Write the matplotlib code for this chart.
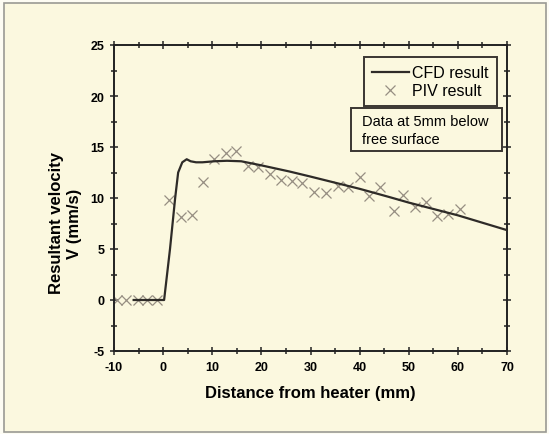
import matplotlib
matplotlib.use("Agg")
import matplotlib.pyplot as plt
from matplotlib.patches import Rectangle
from matplotlib.ticker import MultipleLocator

plt.rcParams['font.family'] = ['Liberation Sans', 'DejaVu Sans']
plt.rcParams['axes.unicode_minus'] = False

# CFD velocity profile along the free surface (mm, mm/s)
cfd_x = [-6, 0.2, 1.4, 2.45, 3.06, 3.9, 4.8, 5.6, 6.7, 8, 10.4, 13, 15.9,
         20, 25.7, 30, 40, 46, 50, 60, 70]
cfd_v = [0, 0, 5.0, 10.0, 12.5, 13.5, 13.8, 13.6, 13.5, 13.5, 13.6, 13.65, 13.6,
         13.2, 12.6, 12.1, 10.9, 10.1, 9.55, 8.3, 6.85]

# PIV measurements
piv_x = [-9.3, -7.6, -5.2, -3.2, -1.2, 1.2, 3.7, 5.8, 8.2, 10.4, 12.8, 14.8,
         17.2, 19.4, 21.8, 24.0, 26.3, 28.2, 30.8, 33.2, 35.6, 37.6, 40.0,
         42.0, 44.2, 46.9, 48.8, 51.2, 53.5, 55.7, 58.0, 60.4]
piv_v = [0, 0, 0, 0, 0, 9.8, 8.1, 8.3, 11.6, 13.8, 14.4, 14.6,
         13.1, 13.0, 12.4, 11.8, 11.7, 11.5, 10.6, 10.5, 11.2, 11.1, 12.1,
         10.2, 11.1, 8.7, 10.3, 9.1, 9.6, 8.2, 8.4, 8.9]

cream = '#fbf8df'
edge = '#3a3632'
fig = plt.figure(figsize=(5.49, 4.35), dpi=100, facecolor='#fdfcf3')
# grey frame round the whole panel
frame = Rectangle((4 / 549, 2 / 435), 542 / 549, 429 / 435,
                  transform=fig.transFigure, facecolor=cream,
                  edgecolor='#9a9a94', linewidth=1.2, zorder=-10)
fig.patches.append(frame)

ax = fig.add_axes([114 / 549, 83 / 435, 393 / 549, 306 / 435])
ax.set_facecolor(cream)

ax.plot(cfd_x, cfd_v, color='#2e2b28', lw=1.6, label='CFD result', zorder=3)
ax.plot(piv_x, piv_v, ls='none', marker='x', ms=7.5, mew=0.9,
        color='#968e82', label='PIV result', zorder=2)

ax.set_xlim(-10, 70)
ax.set_ylim(-5, 25)
ax.xaxis.set_major_locator(MultipleLocator(10))
ax.xaxis.set_minor_locator(MultipleLocator(5))
ax.yaxis.set_major_locator(MultipleLocator(5))
ax.yaxis.set_minor_locator(MultipleLocator(2.5))
ax.tick_params(which='both', direction='inout', top=True, right=True,
               color='#222222', width=1.1)
ax.tick_params(which='major', length=6, labelsize=9, pad=4)
ax.tick_params(which='minor', length=4)
for lab in ax.get_xticklabels() + ax.get_yticklabels():
    lab.set_fontweight('bold')
for sp in ax.spines.values():
    sp.set_linewidth(1.4)
    sp.set_color('#222222')

ax.set_xlabel('Distance from heater (mm)', fontsize=12, fontweight='bold',
              labelpad=9)
ax.set_ylabel('Resultant velocity\nV (mm/s)', fontsize=12, fontweight='bold',
              linespacing=1.2)
ax.yaxis.set_label_coords(-0.082, 0.42)

leg = ax.legend(loc='upper right', bbox_to_anchor=(0.974, 0.960), fontsize=11.5,
                frameon=True, fancybox=False, handlelength=2.35,
                handletextpad=0.2, labelspacing=0.2, borderpad=0.5,
                borderaxespad=0)
leg.get_frame().set_edgecolor(edge)
leg.get_frame().set_linewidth(1.4)
leg.get_frame().set_facecolor(cream)
leg.get_frame().set_alpha(1)

# note box under the legend
ax.add_patch(Rectangle((0.604, 0.655), 0.383, 0.138, transform=ax.transAxes,
                       facecolor=cream, edgecolor=edge, linewidth=1.4,
                       zorder=5))
ax.text(0.631, 0.7216, 'Data at 5mm below\nfree surface', transform=ax.transAxes,
        fontsize=10.5, va='center', ha='left', linespacing=1.35, zorder=6)

fig.savefig('out.png', dpi=100, facecolor=fig.get_facecolor())
